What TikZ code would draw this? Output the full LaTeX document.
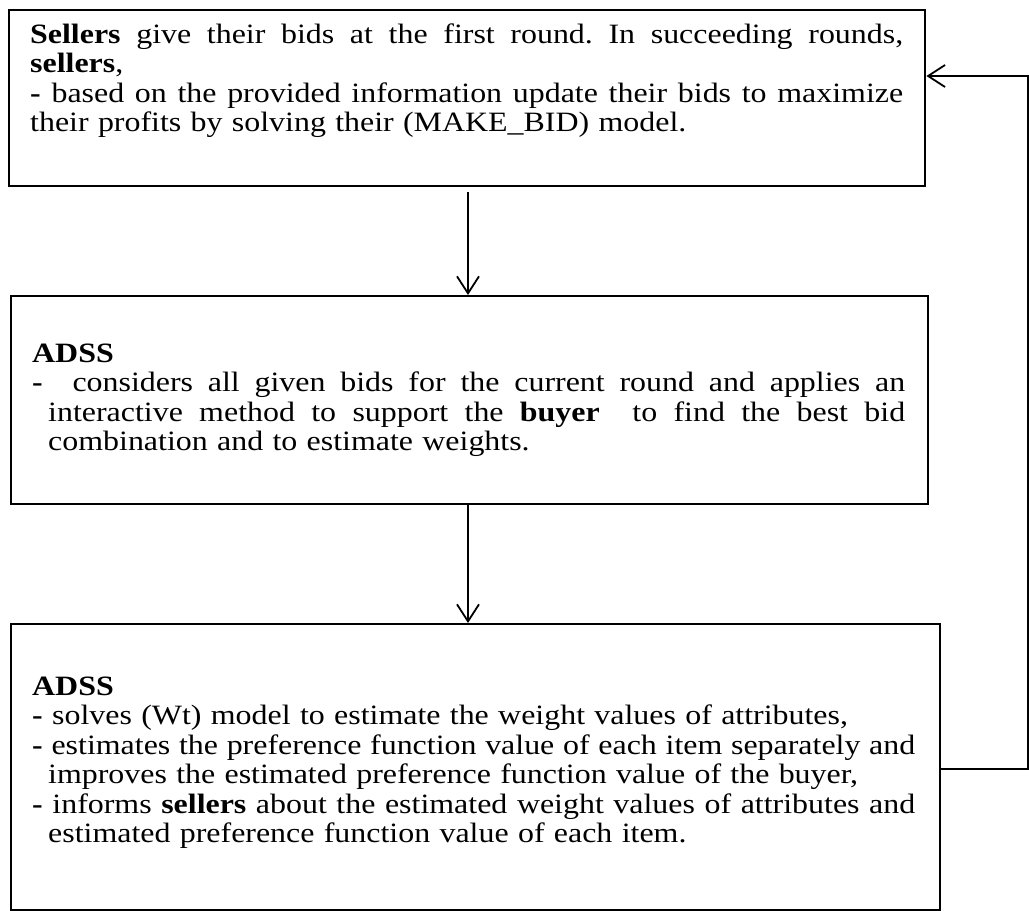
\documentclass[tikz,border=0pt]{standalone}
\usepackage{fontspec}
\setmainfont{Liberation Serif}[FakeStretch=1.14]
\usetikzlibrary{arrows.meta}

% a line spread to a given width, optionally indented
\newcommand{\fullline}[2]{\makebox[#1][s]{\spaceskip=0pt\xspaceskip=0pt\frenchspacing #2}}
\newcommand{\indline}[2]{\hspace*{16pt}\fullline{\dimexpr#1-16pt\relax}{#2}}
\newcommand{\indtext}[1]{\hspace*{16pt}#1}

\tikzset{
  frame/.style={draw, line width=2.4pt, inner sep=0pt, anchor=north west},
  body/.style={anchor=base west, inner sep=0pt, align=left,
    font=\fontsize{28pt}{29.5pt}\selectfont},
  link/.style={line width=1.8pt},
  arr/.style={link, -{Straight Barb[length=17pt, width=22pt, line width=1.8pt]}}
}

\begin{document}
\begin{tikzpicture}[x=1pt, y=-1pt]
\useasboundingbox (0,0) rectangle (1029,911);

% the three stages
\node[frame, minimum width=916pt, minimum height=176pt] (b1) at (8,9) {};
\node[frame, minimum width=917pt, minimum height=208pt] (b2) at (10,295) {};
\node[frame, minimum width=929pt, minimum height=286pt] (b3) at (10,623) {};

\node[body, text width=873pt] (t1) at (30,43) {%
\fullline{873pt}{\textbf{Sellers} give their bids at the first round. In succeeding rounds,}\\
\textbf{sellers},\\
\fullline{873pt}{\textbf{-} based on the provided information update their bids to maximize}\\
their profits by solving their (MAKE\_BID) model.};

\node[body, text width=873pt] (t2) at (32,362) {%
\textbf{ADSS}\\
\fullline{873pt}{\textbf{-} \ considers all given bids for the current round and applies an}\\
\indline{873pt}{interactive method to support the \textbf{buyer} \ to find the best bid}\\
\indtext{combination and to estimate weights.}};

\node[body, text width=883pt] (t3) at (32,695) {%
\textbf{ADSS}\\
\textbf{-} solves (Wt) model to estimate the weight values of attributes,\\
\fullline{883pt}{\textbf{-} estimates the preference function value of each item separately and}\\
\indtext{improves the estimated preference function value of the buyer,}\\
\fullline{883pt}{\textbf{-} informs \textbf{sellers} about the estimated weight values of attributes and}\\
\indtext{estimated preference function value of each item.}};

% forward flow
\coordinate (down) at (468,192);
\draw[arr] (down) -- (down |- b2.north);
\draw[arr] (b2.south -| down) -- (b3.north -| down);

% feedback loop to the next round
\coordinate (loopLow) at (1028,769);
\coordinate (loopHigh) at (1028,76);
\draw[arr] (loopLow -| b3.east) -- (loopLow) -- (loopHigh) -- (loopHigh -| b1.east);
\end{tikzpicture}
\end{document}
